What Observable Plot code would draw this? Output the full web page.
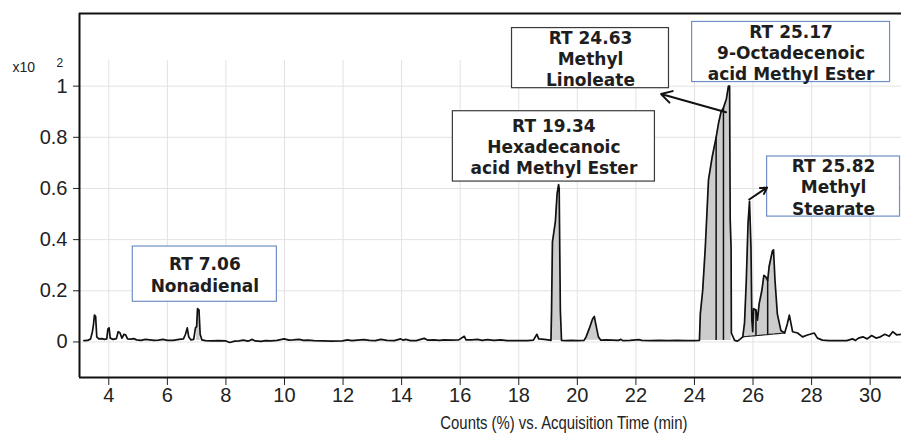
<!DOCTYPE html>
<html><head><meta charset="utf-8">
<script src="https://cdn.jsdelivr.net/npm/d3@7"></script>
<script src="https://cdn.jsdelivr.net/npm/@observablehq/plot@0.6"></script>
<style>
html,body{margin:0;padding:0;background:#fff;}
#chart{width:901px;height:435px;overflow:hidden;}
</style></head><body><div id="chart"></div>
<script>
// Chromatogram trace: acquisition time (min) and counts (x10^2 %)
const time = [3.15,3.28,3.38,3.44,3.48,3.51,3.55,3.59,3.66,3.76,3.86,3.93,3.97,4.01,4.05,4.15,4.26,4.32,4.38,4.45,4.52,4.58,4.64,4.75,4.85,4.95,5.1,5.25,5.4,5.55,5.7,5.85,6.0,6.2,6.4,6.55,6.62,6.68,6.73,6.8,6.9,6.96,7.0,7.03,7.08,7.12,7.18,7.3,7.5,7.75,8.0,8.13,8.3,8.45,8.6,8.75,8.9,9.0,9.2,9.35,9.53,9.75,9.99,10.15,10.3,10.5,10.65,10.79,11.0,11.3,11.6,11.98,12.15,12.3,12.5,12.72,12.9,13.1,13.29,13.5,13.75,13.97,14.05,14.14,14.3,14.5,14.77,14.9,15.1,15.3,15.45,15.7,15.95,16.14,16.2,16.4,16.59,16.75,16.93,17.15,17.39,17.6,17.9,18.07,18.3,18.5,18.62,18.68,18.87,19.0,19.1,19.12,19.15,19.25,19.31,19.36,19.38,19.42,19.46,19.6,19.8,20.0,20.23,20.3,20.4,20.52,20.58,20.63,20.72,20.8,21.0,21.2,21.4,21.49,21.55,21.8,22.1,22.2,22.5,22.8,23.1,23.4,23.7,24.0,24.17,24.2,24.28,24.37,24.48,24.6,24.74,24.83,24.91,24.99,25.09,25.16,25.2,25.22,25.25,25.26,25.37,25.47,25.55,25.65,25.71,25.77,25.83,25.88,25.93,25.96,25.99,26.02,26.1,26.15,26.21,26.3,26.37,26.43,26.5,26.55,26.66,26.7,26.75,26.83,26.95,27.08,27.17,27.24,27.35,27.52,27.69,27.86,28.09,28.2,28.37,28.6,28.9,29.2,29.4,29.5,29.6,29.75,29.9,30.05,30.2,30.35,30.5,30.65,30.77,30.9,31.07];
const counts = [0.005,0.006,0.012,0.04,0.07,0.105,0.1,0.02,0.012,0.013,0.01,0.012,0.05,0.055,0.015,0.01,0.013,0.04,0.036,0.015,0.03,0.027,0.012,0.011,0.013,0.008,0.006,0.01,0.008,0.006,0.007,0.01,0.006,0.006,0.01,0.012,0.03,0.055,0.02,0.008,0.01,0.055,0.06,0.13,0.125,0.03,0.008,0.005,0.004,0.005,0.004,-0.002,0.003,0.004,0.007,0.003,0.01,0.004,0.002,0.005,0.004,0.006,0.012,0.007,0.008,0.01,0.006,0.007,0.005,0.004,0.003,0.004,0.008,0.005,0.007,0.009,0.006,0.005,0.01,0.006,0.005,0.012,0.007,0.01,0.005,0.005,0.014,0.007,0.008,0.006,0.008,0.007,0.008,0.022,0.008,0.008,0.01,0.006,0.009,0.006,0.008,0.005,0.005,0.005,0.005,0.007,0.03,0.012,0.01,0.008,0.006,0.125,0.39,0.47,0.58,0.615,0.6,0.125,0.006,0.005,0.006,0.005,0.006,0.02,0.05,0.09,0.1,0.07,0.02,0.007,0.008,0.007,0.006,0.01,0.005,0.006,0.009,0.006,0.005,0.006,0.005,0.006,0.005,0.005,0.006,0.11,0.2,0.37,0.635,0.72,0.8,0.86,0.9,0.915,0.95,1.0,1.0,0.48,0.37,0.035,0.006,0.003,0.01,0.02,0.075,0.24,0.465,0.55,0.37,0.085,0.04,0.13,0.125,0.085,0.15,0.2,0.26,0.255,0.24,0.295,0.355,0.36,0.24,0.11,0.045,0.035,0.07,0.105,0.04,0.035,0.02,0.027,0.035,0.015,0.007,0.005,0.005,0.005,0.012,0.006,0.015,0.02,0.012,0.025,0.015,0.02,0.03,0.022,0.04,0.028,0.03];

// Integrated peak areas (time windows and baseline values at both ends)
const fillStart = [7.0, 19.1, 20.23, 24.17, 25.65];
const fillEnd = [7.12, 19.46, 20.8, 25.26, 27.08];
const fillBaseStart = [0.006, 0.006, 0.006, 0.006, 0.02];
const fillBaseEnd = [0.006, 0.006, 0.007, 0.006, 0.035];

// Integration dividers inside peak clusters
const dividerTime = [24.74, 24.99, 26.1, 26.5];
const dividerBase = [0.006, 0.006, 0.024, 0.027];
const dividerTop = [0.8, 0.915, 0.125, 0.24];

// Axis ticks
const xTicks = [4, 6, 8, 10, 12, 14, 16, 18, 20, 22, 24, 26, 28, 30];
const yTicks = [0, 0.2, 0.4, 0.6, 0.8, 1];
const xTitle = "Counts (%) vs. Acquisition Time (min)";

// Peak labels
const labelText = [
  "RT 7.06\nNonadienal",
  "RT 19.34\nHexadecanoic\nacid Methyl Ester",
  "RT 24.63\nMethyl\nLinoleate",
  "RT 25.17\n9-Octadecenoic\nacid Methyl Ester",
  "RT 25.82\nMethyl\nStearate"
];

// ---- layout for labels (in data units) ----
const labelBoxes = [
  {x1: 4.82, x2: 9.74, y1: 0.157, y2: 0.373, stroke: "#6f8fc6"},
  {x1: 15.75, x2: 22.65, y1: 0.627, y2: 0.902, stroke: "#3a3a3a"},
  {x1: 17.77, x2: 23.13, y1: 0.992, y2: 1.227, stroke: "#3a3a3a"},
  {x1: 23.92, x2: 30.68, y1: 1.016, y2: 1.251, stroke: "#6f8fc6"},
  {x1: 26.48, x2: 31.02, y1: 0.49, y2: 0.725, stroke: "#6f8fc6"}
];
const labels = labelText.map((t, i) => ({
  text: t,
  x: (labelBoxes[i].x1 + labelBoxes[i].x2) / 2,
  y: (labelBoxes[i].y1 + labelBoxes[i].y2) / 2
}));
const arrows = [
  {x1: 25.08, y1: 0.898, x2: 22.86, y2: 0.969},
  {x1: 25.87, y1: 0.557, x2: 26.48, y2: 0.604}
];

const trace = time.map((t, i) => ({t, v: counts[i]}));
const fills = [];
fillStart.forEach((s, k) => {
  const e = fillEnd[k];
  trace.filter(d => d.t >= s - 1e-9 && d.t <= e + 1e-9).forEach(d => {
    const f = (d.t - s) / (e - s);
    fills.push({t: d.t, v: d.v, base: fillBaseStart[k] + f * (fillBaseEnd[k] - fillBaseStart[k]), k});
  });
});
const dividers = dividerTime.map((t, i) => ({t, b: dividerBase[i], top: dividerTop[i]}));

const X0 = 3.0, X1 = 31.07, Y0 = -0.139, Y1 = 1.284;

const chart = Plot.plot({
  width: 901, height: 435,
  marginLeft: 79, marginRight: 0, marginTop: 13, marginBottom: 58,
  style: {fontFamily: "'Liberation Sans', Arial, sans-serif", fontSize: "20px", color: "#222", background: "#fff"},
  x: {domain: [X0, X1], ticks: xTicks, tickSize: 8, tickPadding: 2, label: null, tickFormat: d => String(d)},
  y: {domain: [Y0, Y1], ticks: yTicks, tickSize: 6, tickPadding: 6, label: null, tickFormat: d => String(+d.toFixed(1))},
  marks: [
    Plot.ruleX(xTicks, {y1: Y0, y2: 1.1, stroke: "#e2e2e2", strokeWidth: 1}),
    Plot.ruleY(yTicks, {x1: X0, x2: X1, stroke: "#e2e2e2", strokeWidth: 1}),
    Plot.areaY(fills, {x: "t", y1: "base", y2: "v", z: "k", fill: "#cdcdcd", curve: "linear"}),
    Plot.ruleX(dividers, {x: "t", y1: "b", y2: "top", stroke: "#111", strokeWidth: 1.5}),
    Plot.line(fills.filter(d => d.k === 4), {x: "t", y: "base", stroke: "#222", strokeWidth: 1.2}),
    Plot.line(trace, {x: "t", y: "v", stroke: "#111", strokeWidth: 1.7, curve: "linear"}),
    Plot.rect(labelBoxes, {x1: "x1", x2: "x2", y1: "y1", y2: "y2", fill: "#fff", stroke: "stroke", strokeWidth: 1.2}),
    Plot.text(labels, {x: "x", y: "y", text: "text", fontFamily: "'DejaVu Sans', sans-serif", fontWeight: "bold", fontSize: 17, lineHeight: 1.25, fill: "#1e1e1e", lineAnchor: "middle"}),
    Plot.arrow(arrows, {x1: "x1", y1: "y1", x2: "x2", y2: "y2", stroke: "#111", strokeWidth: 2, headLength: 9}),
    Plot.ruleX([X0], {y1: Y0, y2: Y1, stroke: "#111", strokeWidth: 2}),
    Plot.ruleY([Y0, Y1], {x1: X0, x2: X1, stroke: "#111", strokeWidth: 2}),
    Plot.text([xTitle], {frameAnchor: "bottom", x: 19.54, dy: 51, fontSize: 18, fill: "#222"}),
    Plot.text(["x10"], {frameAnchor: "top-left", dx: -67, dy: 58, textAnchor: "start", lineAnchor: "bottom", fontSize: 14, fill: "#222"}),
    Plot.text(["2"], {frameAnchor: "top-left", dx: -23, dy: 53, textAnchor: "start", lineAnchor: "bottom", fontSize: 12, fill: "#222"})
  ]
});
document.getElementById("chart").appendChild(chart);

// Condense the axis title to match the narrow typeface of the original
d3.select(chart).selectAll("text").filter(function () { return this.textContent === xTitle; })
  .attr("textLength", 247).attr("lengthAdjust", "spacingAndGlyphs");
</script>
</body></html>
